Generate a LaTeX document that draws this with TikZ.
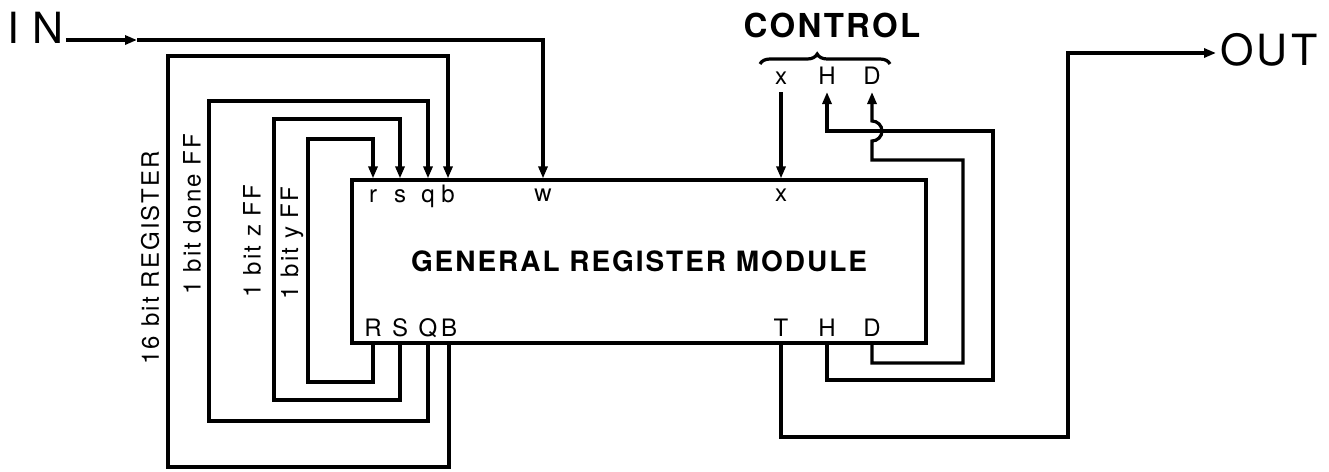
\documentclass[tikz,border=0pt]{standalone}
\usepackage{fontspec}
\setmainfont{TeX Gyre Heros}
\usetikzlibrary{arrows.meta, positioning, decorations.pathreplacing}

\begin{document}
\begin{tikzpicture}[
    x=1pt, y=-1pt,
    wire/.style={line width=3.2pt},
    feed/.style={wire, -{Triangle[length=12pt, width=9pt]}},
    pin/.style={font=\fontsize{24}{24}\selectfont, inner sep=0pt, anchor=base},
    ctlpin/.style={pin, outer sep=8pt},
    tag/.style={font=\fontsize{24}{24}\selectfont\addfontfeature{LetterSpace=9}, rotate=90, inner sep=0pt},
    big/.style={font=\fontsize{43}{43}\selectfont\addfontfeature{LetterSpace=8}, inner sep=0pt, outer sep=4pt, anchor=base west},
    brace/.style={line width=3.2pt, decorate, decoration={brace, amplitude=10pt, aspect=0.44}}
]
\useasboundingbox (0,0) rectangle (1329,471);

% module
\node[draw, line width=3.2pt, minimum width=574pt, minimum height=163pt,
      font=\fontsize{28}{28}\selectfont\bfseries\addfontfeature{LetterSpace=7}] (grm) at (639,261.5) {GENERAL REGISTER MODULE};

% pins on the module
\node[pin] (pr) at (373,202) {r};
\node[pin] (ps) at (400,202) {s};
\node[pin] (pq) at (428,202) {q};
\node[pin] (pb) at (448,202) {b};
\node[pin] (pw) at (543,201) {w};
\node[pin] (px) at (781,201) {x};
\node[pin] (pR) at (373,336) {R};
\node[pin] (pS) at (400,336) {S};
\node[pin] (pQ) at (428,336) {Q};
\node[pin] (pB) at (449,336) {B};
\node[pin] (pT) at (781,336) {T};
\node[pin] (pH) at (827,336) {H};
\node[pin] (pD) at (872,336) {D};

% outside texts
\node[big, outer sep=2pt, font=\fontsize{43}{43}\selectfont\addfontfeature{LetterSpace=30}] (in) at (6,43) {IN};
\node[big] (out) at (1216,65) {OUT};
\node[font=\fontsize{33}{33}\selectfont\bfseries\addfontfeature{LetterSpace=7}, inner sep=0pt, anchor=base] (control) at (832,37) {CONTROL};
\node[ctlpin] (cx) at (781,84) {x};
\node[ctlpin] (cH) at (827,84) {H};
\node[ctlpin] (cD) at (872,84) {D};
\coordinate (brl) at (760,64);
\coordinate (brr) at (890,64);
\draw[brace] (brl) -- (brr);

% register loops
\node[tag] (reg) at (150,258) {16 bit REGISTER};
\node[tag] (done) at (192,214) {1 bit done FF};
\node[tag] (zff) at (252,241) {1 bit z FF};
\node[tag] (yff) at (292,243) {1 bit y FF};

\coordinate (bbot) at (168,467);
\coordinate (btop) at (168,56);
\coordinate (qbot) at (209,421);
\coordinate (qtop) at (209,101);
\coordinate (sbot) at (274,400);
\coordinate (stop) at (274,119);
\coordinate (rbot) at (308,382);
\coordinate (rtop) at (308,139);

\draw[feed] (pB |- grm.south) |- (bbot) -- (btop) -| (pb |- grm.north);
\draw[feed] (pQ |- grm.south) |- (qbot) -- (qtop) -| (pq |- grm.north);
\draw[feed] (pS |- grm.south) |- (sbot) -- (stop) -| (ps |- grm.north);
\draw[feed] (pR |- grm.south) |- (rbot) -- (rtop) -| (pr |- grm.north);

% input
\coordinate (inarr) at (137,40);
\draw[feed] (in.east |- inarr) -- (inarr);
\draw[feed] (inarr) -| (pw |- grm.north);

% control lines
\coordinate (hbot) at (993,380);
\coordinate (htop) at (993,131);
\coordinate (dbot) at (963,363);
\coordinate (dtop) at (963,160);
\coordinate (dhop) at (872,141);
\draw[feed] (cx.south) -- (px |- grm.north);
\draw[feed] (pH |- grm.south) |- (hbot) -- (htop) -| (cH.south);
\draw[feed] (pD |- grm.south) |- (dbot) -- (dtop) -| (dhop)
    arc[start angle=-90, end angle=90, radius=10pt] -- (cD.south);

% output
\coordinate (tbot) at (1068,437);
\coordinate (ttop) at (1068,53);
\draw[feed] (pT |- grm.south) |- (tbot) -- (ttop) -- (out.west |- ttop);
\end{tikzpicture}
\end{document}
